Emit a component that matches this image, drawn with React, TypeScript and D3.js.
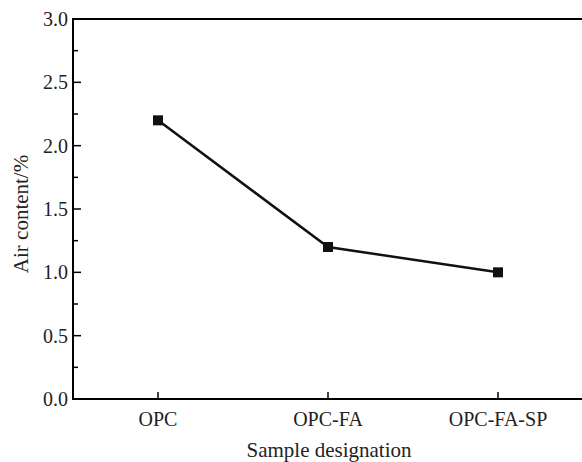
import React, { useEffect, useRef } from "react";
import * as d3 from "d3";

const categories = ["OPC", "OPC-FA", "OPC-FA-SP"];
const airContent = [2.2, 1.2, 1.0];
const yTicks = [0, 0.5, 1.0, 1.5, 2.0, 2.5, 3.0];
const yMinorTicks = [0.25, 0.75, 1.25, 1.75, 2.25, 2.75];

const App = () => {
  const ref = useRef<SVGSVGElement>(null);

  useEffect(() => {
    document.body.style.margin = "0";
    const width = 582;
    const height = 462;
    const left = 73;
    const right = 583;
    const top = 19;
    const bottom = 399;
    const font = "'Liberation Serif', 'Times New Roman', serif";

    const svg = d3.select(ref.current);
    svg.selectAll("*").remove();
    svg.attr("width", width).attr("height", height);

    const x = d3.scaleBand().domain(categories).range([left, right]).padding(0);
    const y = d3.scaleLinear().domain([0, 3]).range([bottom, top]);

    // frame
    svg
      .append("path")
      .attr("d", `M${right},${top}H${left}V${bottom}H${right}`)
      .attr("fill", "none")
      .attr("stroke", "#000")
      .attr("stroke-width", 2);

    // y ticks
    svg
      .selectAll(".ymaj")
      .data(yTicks)
      .enter()
      .append("line")
      .attr("x1", left)
      .attr("x2", left + 8)
      .attr("y1", (d) => y(d))
      .attr("y2", (d) => y(d))
      .attr("stroke", "#000")
      .attr("stroke-width", 1.5);

    svg
      .selectAll(".ymin")
      .data(yMinorTicks)
      .enter()
      .append("line")
      .attr("x1", left)
      .attr("x2", left + 5)
      .attr("y1", (d) => y(d))
      .attr("y2", (d) => y(d))
      .attr("stroke", "#000")
      .attr("stroke-width", 1.5);

    svg
      .selectAll(".ylab")
      .data(yTicks)
      .enter()
      .append("text")
      .attr("x", left - 5)
      .attr("y", (d) => y(d) + 7)
      .attr("text-anchor", "end")
      .attr("font-family", font)
      .attr("font-size", 20)
      .attr("fill", "#222")
      .text((d) => d3.format(".1f")(d));

    // x ticks
    svg
      .selectAll(".xt")
      .data(categories)
      .enter()
      .append("line")
      .attr("x1", (d) => x(d)! + x.bandwidth() / 2)
      .attr("x2", (d) => x(d)! + x.bandwidth() / 2)
      .attr("y1", bottom)
      .attr("y2", bottom - 7)
      .attr("stroke", "#000")
      .attr("stroke-width", 1.5);

    svg
      .selectAll(".xlab")
      .data(categories)
      .enter()
      .append("text")
      .attr("x", (d) => x(d)! + x.bandwidth() / 2)
      .attr("y", bottom + 27)
      .attr("text-anchor", "middle")
      .attr("font-family", font)
      .attr("font-size", 20)
      .attr("fill", "#222")
      .text((d) => d);

    // axis titles
    svg
      .append("text")
      .attr("x", 329)
      .attr("y", 457)
      .attr("text-anchor", "middle")
      .attr("font-family", font)
      .attr("font-size", 21)
      .attr("fill", "#222")
      .text("Sample designation");

    svg
      .append("text")
      .attr("transform", `translate(28,214) rotate(-90)`)
      .attr("text-anchor", "middle")
      .attr("font-family", font)
      .attr("font-size", 21)
      .attr("fill", "#222")
      .text("Air content/%");

    const pts = categories.map((c, i) => [x(c)! + x.bandwidth() / 2, y(airContent[i])] as [number, number]);

    svg
      .append("path")
      .datum(pts)
      .attr("d", d3.line())
      .attr("fill", "none")
      .attr("stroke", "#111")
      .attr("stroke-width", 2.5);

    svg
      .selectAll(".mk")
      .data(pts)
      .enter()
      .append("rect")
      .attr("x", (d) => d[0] - 5)
      .attr("y", (d) => d[1] - 5)
      .attr("width", 10)
      .attr("height", 10)
      .attr("fill", "#111");
  }, []);

  return <svg ref={ref} style={{ display: "block" }}></svg>;
};

export default App;
